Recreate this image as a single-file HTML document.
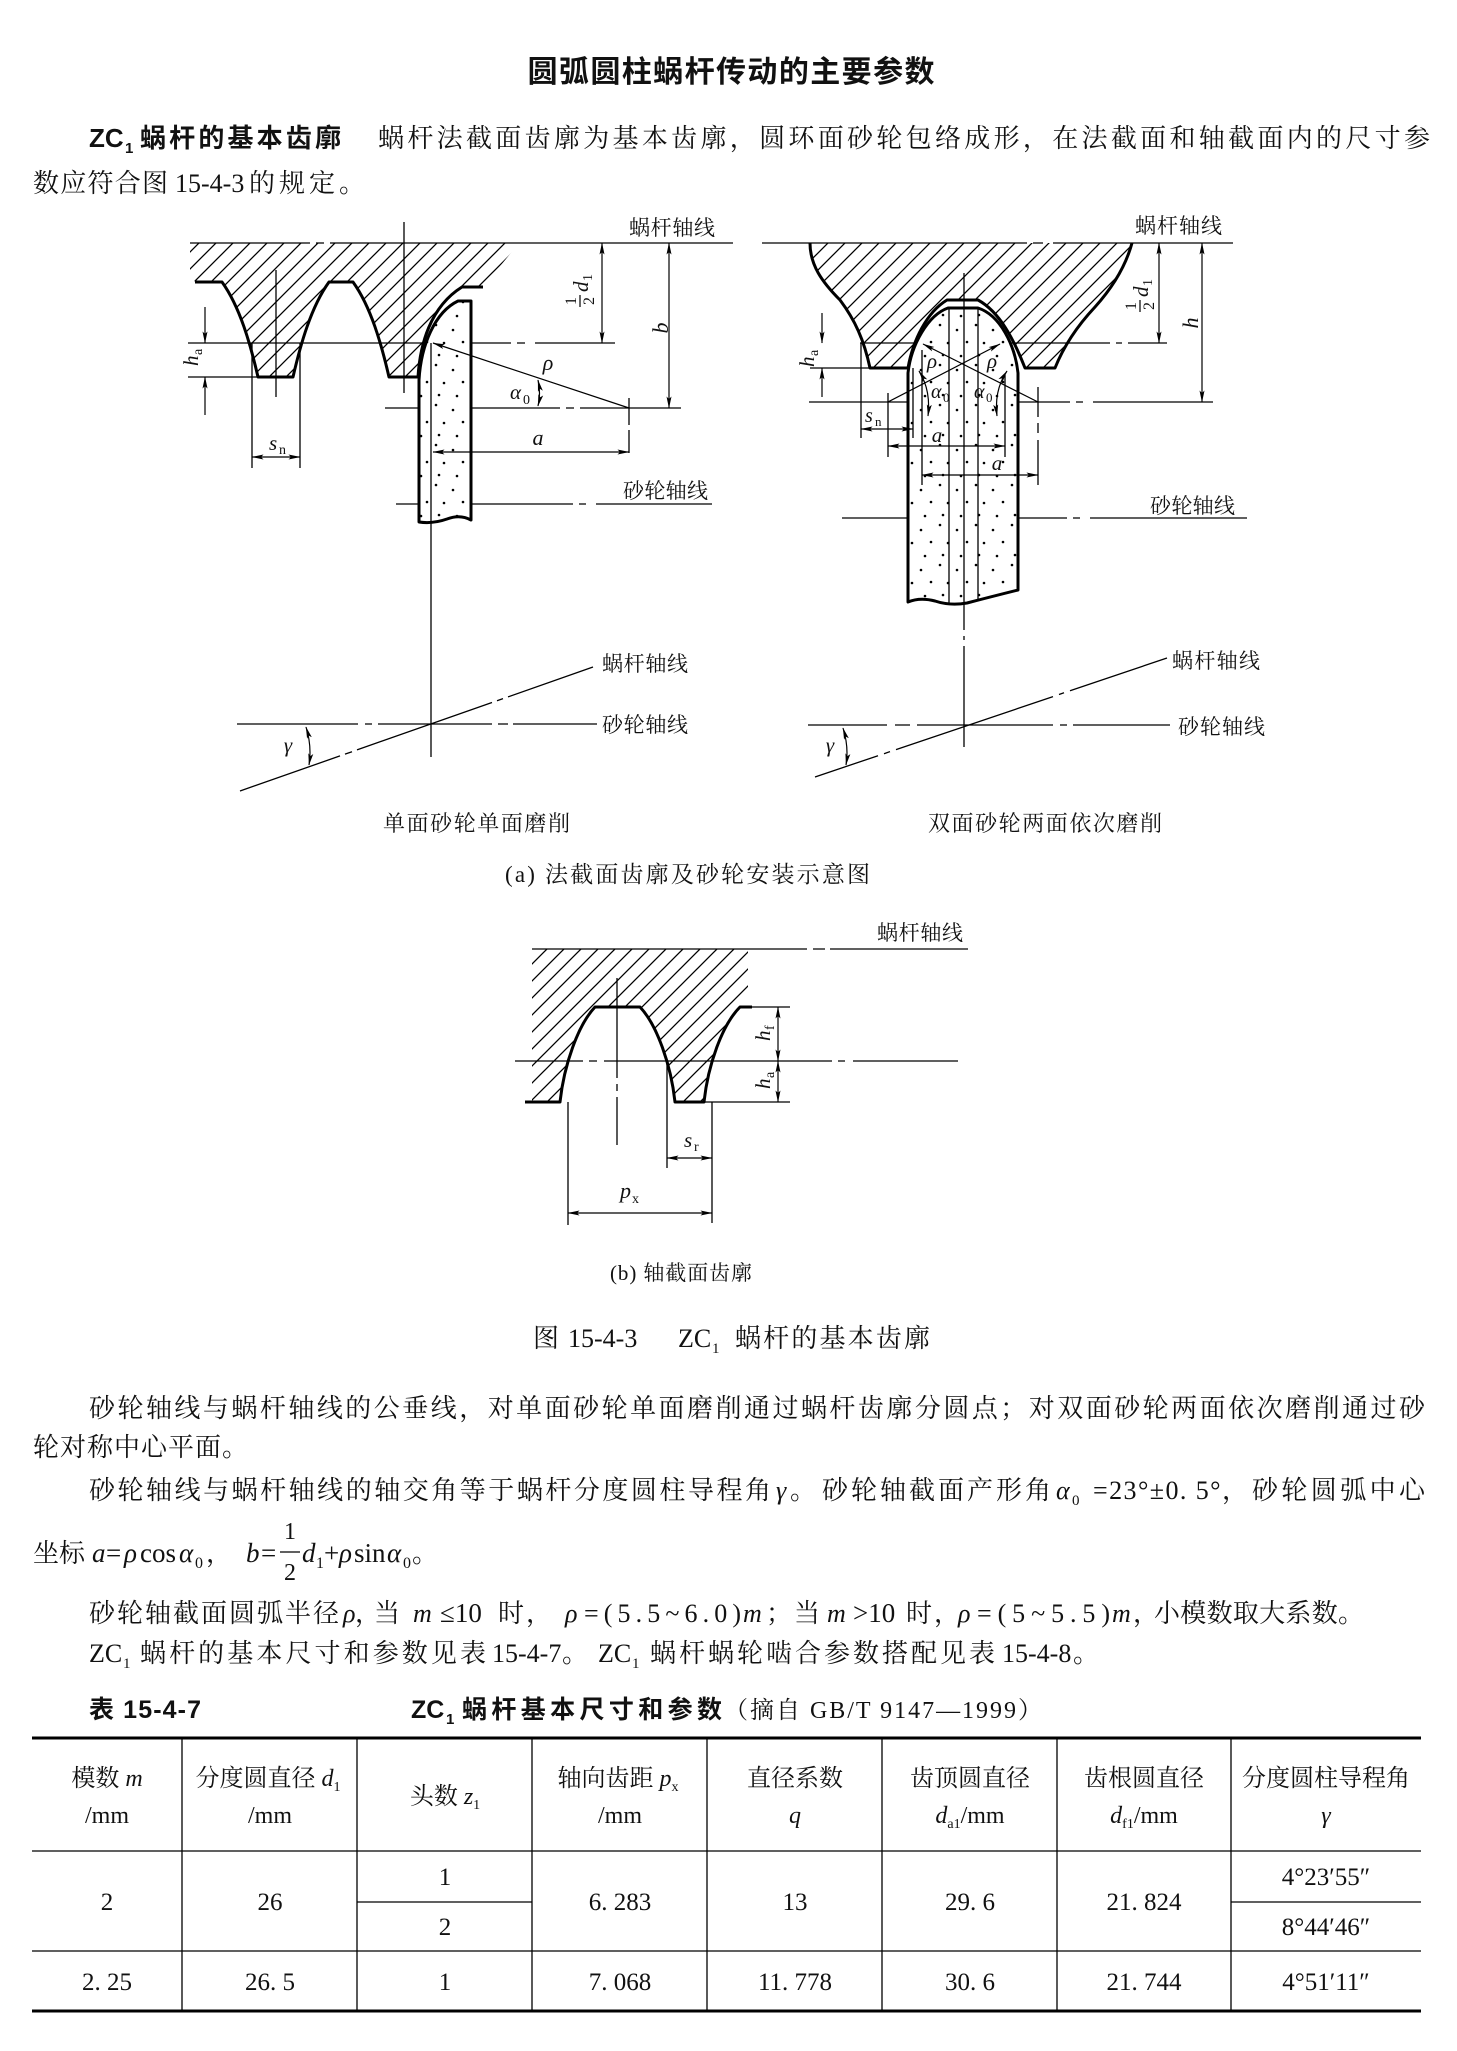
<!DOCTYPE html>
<html><head><meta charset="utf-8">
<style>
html,body{margin:0;padding:0;background:#fff;}
svg{display:block;}
.cj{font-family:"Liberation Serif","Noto Serif CJK SC",serif;}
.hei{font-family:"Liberation Sans","Noto Sans CJK SC",sans-serif;font-weight:bold;}
.it{font-family:"Liberation Serif",serif;font-style:italic;}
.ln{stroke:#000;stroke-width:1.3;fill:none;}
.tk{stroke:#000;stroke-width:3;fill:none;stroke-linejoin:round;}
.d2{stroke:#000;stroke-width:1.2;fill:none;marker-start:url(#a);marker-end:url(#a);}
.d1{stroke:#000;stroke-width:1.2;fill:none;marker-end:url(#a);}
text{fill:#111;}
</style></head><body>
<svg width="1457" height="2051" viewBox="0 0 1457 2051" xmlns="http://www.w3.org/2000/svg">
<defs>
<pattern id="h" width="17" height="17" patternUnits="userSpaceOnUse">
<path d="M-1,18 L18,-1 M-9,9 L9,-9 M8,26 L26,8" stroke="#000" stroke-width="1.3"/>
</pattern>
<pattern id="dt" width="36" height="40" patternUnits="userSpaceOnUse">
<circle cx="4" cy="5" r="1.3" fill="#000"/><circle cx="21" cy="10" r="1.3" fill="#000"/>
<circle cx="31" cy="22" r="1.3" fill="#000"/><circle cx="12" cy="23" r="1.3" fill="#000"/>
<circle cx="7" cy="35" r="1.3" fill="#000"/><circle cx="25" cy="36" r="1.3" fill="#000"/>
</pattern>
<marker id="a" viewBox="0 0 12 6" refX="11.5" refY="3" markerWidth="12" markerHeight="6" markerUnits="userSpaceOnUse" orient="auto-start-reverse">
<path d="M0,0.5 L12,3 L0,5.5 L2.5,3Z" fill="#000"/>
</marker>
</defs>

<!-- Title -->
<text x="731" y="82" text-anchor="middle" class="hei" font-size="30" textLength="407">圆弧圆柱蜗杆传动的主要参数</text>

<!-- Paragraph 1 -->
<text x="89" y="147" class="hei" font-size="26">ZC</text>
<text x="125" y="153" class="hei" font-size="15">1</text>
<text x="140" y="147" class="hei" font-size="26" textLength="201">蜗杆的基本齿廓</text>
<text x="378" y="147" class="cj" font-size="26" textLength="1052">蜗杆法截面齿廓为基本齿廓，圆环面砂轮包络成形，在法截面和轴截面内的尺寸参</text>
<text x="33" y="192" class="cj" font-size="26" textLength="135">数应符合图</text>
<text x="175" y="192" class="cj" font-size="26">15-4-3</text>
<text x="249" y="192" class="cj" font-size="26" textLength="116">的规定。</text>

<!-- ===== Diagram (a) left ===== -->
<path d="M190,243 L519,243 L483,287 L462,287 C430,307 420,345 418,377 L389,377 C381.5,344.5 371,307 353,282 L329,282 C311,307 300.5,344.5 293,377 L258,377 C250.5,344.5 240,307 222,282 L195,282 L190,270Z" fill="url(#h)"/>
<path class="ln" d="M190,243H310M316,243H324M330,243H733"/>
<path class="ln" d="M404,222V393"/>
<path class="ln" d="M276,270V397"/>
<path class="ln" d="M188,343H511M517,343H525M535,343H615"/>
<path class="ln" d="M188,377H258"/>
<path class="ln" d="M252,343V468M300,343V468"/>
<path class="ln" d="M385,408H560M566,408H574M580,408H681"/>
<path class="ln" d="M629,398V425M629,430V453"/>
<path class="ln" d="M396,504H573M579,504H586M596,504H712"/>
<path class="tk" d="M195,282 L222,282 C240,307 250.5,344.5 258,377 L293,377 C300.5,344.5 311,307 329,282 L353,282 C371,307 381.5,344.5 389,377 L418,377 M418,377 C420,345 430,307 462,287 L483,287"/>
<!-- wheel -->
<path d="M419,522 L419,380 C421,345 435,312 458,301 L471,301 L471,520 Q460,514 447,519 Q433,524 419,522Z" fill="#fff"/>
<path d="M419,522 L419,380 C421,345 435,312 458,301 L471,301 L471,520 Q460,514 447,519 Q433,524 419,522Z" fill="url(#dt)" stroke="#000" stroke-width="3" stroke-linejoin="round"/>
<path class="ln" d="M431,343V757"/>
<path class="d1" d="M629,408 L433,343"/>
<path class="d2" d="M538,380 Q541,394 538,406"/>
<path class="d2" d="M433,452H629"/>
<path class="d2" d="M669,243V408"/>
<path class="d2" d="M602,243V343"/>
<path class="d1" d="M205,307V343"/>
<path class="d1" d="M205,415V377"/>
<path class="d2" d="M252,457H300"/>
<text x="629" y="235" class="cj" font-size="21" textLength="86">蜗杆轴线</text>
<text x="623" y="498" class="cj" font-size="21" textLength="85">砂轮轴线</text>
<text x="548" y="370" class="it" font-size="22" text-anchor="middle">ρ</text>
<text x="510" y="399" class="it" font-size="21">α</text><text x="523" y="404" class="cj" font-size="14">0</text>
<text x="538" y="445" class="it" font-size="22" text-anchor="middle">a</text>
<text x="269" y="450" class="it" font-size="21">s</text><text x="279" y="454" class="cj" font-size="14">n</text>
<g transform="translate(192,357) rotate(-90)"><text x="-9" y="6" class="it" font-size="21">h</text><text x="2" y="10" class="cj" font-size="14">a</text></g>
<g transform="translate(661,328) rotate(-90)"><text x="0" y="7" class="it" font-size="22" text-anchor="middle">b</text></g>
<g transform="translate(580,288) rotate(-90)">
<text x="-13" y="-4" class="cj" font-size="16" text-anchor="middle">1</text>
<path d="M-19,0H-7" stroke="#000" stroke-width="1.2"/>
<text x="-13" y="14" class="cj" font-size="16" text-anchor="middle">2</text>
<text x="-4" y="8" class="it" font-size="21">d</text><text x="7" y="12" class="cj" font-size="14">1</text>
</g>

<!-- lower axes left -->
<path class="ln" d="M237,724H358M365,724H372M378,724H492M498,724H508M513,724H597"/>
<path class="ln" d="M240,791L340,755.9M345,754.1L352,751.7M357,749.9L492,702.5M497,700.7L503,698.6M508,696.9L593,667"/>
<path class="d2" d="M306,727 Q312,746 309,765"/>
<text x="288" y="752" class="it" font-size="21" text-anchor="middle">γ</text>
<text x="602" y="671" class="cj" font-size="21" textLength="86">蜗杆轴线</text>
<text x="602" y="732" class="cj" font-size="21" textLength="86">砂轮轴线</text>
<text x="383" y="831" class="cj" font-size="22" textLength="187">单面砂轮单面磨削</text>

<!-- ===== Diagram (a) right ===== -->
<path d="M810,243 L1132,243 C1126,265 1113,287 1095,307 C1080,323 1065,343 1055,368 L1025,368 C1014,340 1000,312 978,300 L947,300 C927,312 913,340 908,368 L870,368 C864,340 855,320 840,300 C822,282 810,265 810,243Z" fill="url(#h)"/>
<path class="ln" d="M762,243H1027M1033,243H1043M1053,243H1233"/>
<path class="ln" d="M860,343H1110M1116,343H1122M1128,343H1167"/>
<path class="ln" d="M809,402H1070M1076,402H1083M1093,402H1213"/>
<path class="ln" d="M810,368H870"/>
<path class="ln" d="M842,518H1067M1073,518H1080M1090,518H1247"/>
<path class="tk" d="M810,243 C810,265 822,282 840,300 C855,320 864,340 870,368 L908,368 C913,340 927,312 947,300 L978,300 C1000,312 1014,340 1025,368 L1055,368 C1065,343 1080,323 1095,307 C1113,287 1126,265 1132,243"/>
<!-- wheel -->
<path d="M908,602 L908,373 C911,345 928,315 948,308 L978,308 C1000,315 1015,345 1018,373 L1018,590 Q990,597 967,603 Q950,606 935,601 Q920,597 908,602Z" fill="#fff"/>
<path d="M908,602 L908,373 C911,345 928,315 948,308 L978,308 C1000,315 1015,345 1018,373 L1018,590 Q990,597 967,603 Q950,606 935,601 Q920,597 908,602Z" fill="url(#dt)" stroke="#000" stroke-width="3" stroke-linejoin="round"/>
<path class="ln" d="M949,308V604M978,308V600"/>
<path class="ln" d="M964,273V630M964,636V640M964,646V747"/>
<path class="d1" d="M822,313V343"/>
<path class="d1" d="M822,397V368"/>
<path class="ln" d="M861,343V438M913,368V438"/>
<path class="d2" d="M861,429H913"/>
<path class="d1" d="M1038,402 L923,344"/>
<path class="d1" d="M888,402 L1000,344"/>
<path class="ln" d="M888,393V457M1005,375V457M922,350V485M1038,387V417M1038,423V433M1038,440V485"/>
<path class="d2" d="M888,446H1005"/>
<path class="d2" d="M922,475H1038"/>
<path class="d2" d="M928,416 Q931,390 919,371"/>
<path class="d2" d="M997,416 Q994,390 1007,371"/>
<path class="d2" d="M1159,243V343"/>
<path class="d2" d="M1202,243V402"/>
<text x="1135" y="233" class="cj" font-size="21" textLength="87">蜗杆轴线</text>
<text x="1150" y="513" class="cj" font-size="21" textLength="85">砂轮轴线</text>
<text x="932" y="368" class="it" font-size="21" text-anchor="middle">ρ</text>
<text x="992" y="368" class="it" font-size="21" text-anchor="middle">ρ</text>
<text x="931" y="398" class="it" font-size="20">α</text><text x="943" y="402" class="cj" font-size="13">0</text>
<text x="974" y="398" class="it" font-size="20">α</text><text x="986" y="402" class="cj" font-size="13">0</text>
<text x="937" y="442" class="it" font-size="21" text-anchor="middle">a</text>
<text x="997" y="470" class="it" font-size="21" text-anchor="middle">a</text>
<text x="865" y="422" class="it" font-size="20">s</text><text x="875" y="426" class="cj" font-size="13">n</text>
<g transform="translate(808,358) rotate(-90)"><text x="-9" y="6" class="it" font-size="21">h</text><text x="2" y="10" class="cj" font-size="14">a</text></g>
<g transform="translate(1191,323) rotate(-90)"><text x="0" y="7" class="it" font-size="22" text-anchor="middle">h</text></g>
<g transform="translate(1140,293) rotate(-90)">
<text x="-13" y="-4" class="cj" font-size="16" text-anchor="middle">1</text>
<path d="M-19,0H-7" stroke="#000" stroke-width="1.2"/>
<text x="-13" y="14" class="cj" font-size="16" text-anchor="middle">2</text>
<text x="-4" y="8" class="it" font-size="21">d</text><text x="7" y="12" class="cj" font-size="14">1</text>
</g>

<!-- lower axes right -->
<path class="ln" d="M808,725H887M895,725H910M917,725H1053M1060,725H1067M1073,725H1170"/>
<path class="ln" d="M815,777L878,755.7M884,753.7L890,751.6M896,749.6L1053,696.6M1059,694.5L1064,692.8M1070,690.8L1167,658"/>
<path class="d2" d="M843,728 Q849,747 846,765"/>
<text x="830" y="752" class="it" font-size="21" text-anchor="middle">γ</text>
<text x="1172" y="668" class="cj" font-size="21" textLength="88">蜗杆轴线</text>
<text x="1178" y="734" class="cj" font-size="21" textLength="87">砂轮轴线</text>
<text x="928" y="831" class="cj" font-size="22" textLength="234">双面砂轮两面依次磨削</text>

<text x="505" y="882" class="cj" font-size="23" textLength="365">(a) 法截面齿廓及砂轮安装示意图</text>

<!-- ===== Diagram (b) ===== -->
<path d="M532,949 L748,949 L748,995 L740,1007 C722,1025 708,1065 704,1102 L675,1102 C671,1065 657,1025 640,1007 L595,1007 C578,1025 564,1065 560,1102 L532,1102Z" fill="url(#h)"/>
<path class="ln" d="M532,949H807M813,949H825M830,949H968"/>
<path class="ln" d="M515,1061H583M589,1061H597M604,1061H832M838,1061H845M853,1061H958"/>
<path class="ln" d="M617,978V1078M617,1084V1091M617,1097V1145"/>
<path class="ln" d="M752,1007H790M704,1102H790"/>
<path class="tk" d="M525,1102 L560,1102 C564,1065 578,1025 595,1007 L640,1007 C657,1025 671,1065 675,1102 L704,1102 C708,1065 722,1025 740,1007 L752,1007"/>
<path class="d2" d="M778,1007V1061"/>
<path class="d2" d="M778,1061V1102"/>
<path class="ln" d="M667,1061V1168M712,1102V1223M568,1102V1225"/>
<path class="d2" d="M667,1158H712"/>
<path class="d2" d="M568,1213H712"/>
<text x="877" y="940" class="cj" font-size="21" textLength="86">蜗杆轴线</text>
<g transform="translate(764,1032) rotate(-90)"><text x="-9" y="6" class="it" font-size="21">h</text><text x="2" y="10" class="cj" font-size="14">f</text></g>
<g transform="translate(764,1080) rotate(-90)"><text x="-9" y="6" class="it" font-size="21">h</text><text x="2" y="10" class="cj" font-size="14">a</text></g>
<text x="684" y="1147" class="it" font-size="21">s</text><text x="694" y="1151" class="cj" font-size="14">r</text>
<text x="620" y="1198" class="it" font-size="22">p</text><text x="632" y="1203" class="cj" font-size="14">x</text>
<text x="610" y="1280" class="cj" font-size="21" textLength="142">(b) 轴截面齿廓</text>

<!-- Figure caption -->
<text x="533" y="1347" class="cj" font-size="26">图</text>
<text x="568" y="1347" class="cj" font-size="26">15-4-3</text>
<text x="678" y="1347" class="cj" font-size="26">ZC</text>
<text x="712" y="1353" class="cj" font-size="15">1</text>
<text x="735" y="1347" class="cj" font-size="26" textLength="195">蜗杆的基本齿廓</text>

<!-- Paragraphs -->
<text x="89" y="1417" class="cj" font-size="26" textLength="1336">砂轮轴线与蜗杆轴线的公垂线，对单面砂轮单面磨削通过蜗杆齿廓分圆点；对双面砂轮两面依次磨削通过砂</text>
<text x="33" y="1456" class="cj" font-size="26" textLength="215">轮对称中心平面。</text>

<text x="89" y="1499" class="cj" font-size="26" textLength="682">砂轮轴线与蜗杆轴线的轴交角等于蜗杆分度圆柱导程角</text>
<text x="776" y="1499" class="it" font-size="26">γ</text>
<text x="790" y="1499" class="cj" font-size="26">。</text>
<text x="822" y="1499" class="cj" font-size="26" textLength="229">砂轮轴截面产形角</text>
<text x="1056" y="1499" class="it" font-size="26">α</text>
<text x="1072" y="1505" class="cj" font-size="15">0</text>
<text x="1093" y="1499" class="cj" font-size="26" textLength="155">=23°±0. 5°，</text>
<text x="1252" y="1499" class="cj" font-size="26" textLength="173">砂轮圆弧中心</text>

<text x="33" y="1562" class="cj" font-size="26">坐标</text>
<text x="92" y="1562" class="it" font-size="27">a</text>
<text x="106" y="1562" class="cj" font-size="27">=</text>
<text x="124" y="1562" class="it" font-size="27">ρ</text>
<text x="140" y="1562" class="cj" font-size="27">cos</text>
<text x="179" y="1562" class="it" font-size="27">α</text>
<text x="195" y="1568" class="cj" font-size="16">0</text>
<text x="206" y="1562" class="cj" font-size="26">，</text>
<text x="246" y="1562" class="it" font-size="27">b</text>
<text x="261" y="1562" class="cj" font-size="27">=</text>
<text x="290" y="1539" class="cj" font-size="24" text-anchor="middle">1</text>
<path d="M280,1552H300" stroke="#000" stroke-width="1.3"/>
<text x="290" y="1580" class="cj" font-size="24" text-anchor="middle">2</text>
<text x="302" y="1562" class="it" font-size="27">d</text>
<text x="316" y="1568" class="cj" font-size="16">1</text>
<text x="324" y="1562" class="cj" font-size="27">+</text>
<text x="339" y="1562" class="it" font-size="27">ρ</text>
<text x="354" y="1562" class="cj" font-size="27">sin</text>
<text x="387" y="1562" class="it" font-size="27">α</text>
<text x="403" y="1568" class="cj" font-size="16">0</text>
<text x="412" y="1562" class="cj" font-size="26">。</text>

<text x="89" y="1622" class="cj" font-size="26" textLength="250">砂轮轴截面圆弧半径</text>
<text x="343" y="1622" class="it" font-size="26">ρ</text>
<text x="355" y="1622" class="cj" font-size="26">，</text>
<text x="374" y="1622" class="cj" font-size="26">当</text>
<text x="413" y="1622" class="it" font-size="26">m</text>
<text x="440" y="1622" class="cj" font-size="27">≤10</text>
<text x="498" y="1622" class="cj" font-size="26">时</text>
<text x="526" y="1622" class="cj" font-size="26">，</text>
<text x="565" y="1622" class="it" font-size="26">ρ</text>
<text x="584" y="1622" class="cj" font-size="26" textLength="157">=(5.5~6.0)</text>
<text x="743" y="1622" class="it" font-size="26">m</text>
<text x="766" y="1622" class="cj" font-size="26">；</text>
<text x="794" y="1622" class="cj" font-size="26">当</text>
<text x="827" y="1622" class="it" font-size="26">m</text>
<text x="853" y="1622" class="cj" font-size="27">&gt;10</text>
<text x="906" y="1622" class="cj" font-size="26">时</text>
<text x="934" y="1622" class="cj" font-size="26">，</text>
<text x="958" y="1622" class="it" font-size="26">ρ</text>
<text x="977" y="1622" class="cj" font-size="26" textLength="133">=(5~5.5)</text>
<text x="1112" y="1622" class="it" font-size="26">m</text>
<text x="1133" y="1622" class="cj" font-size="26">，</text>
<text x="1154" y="1622" class="cj" font-size="26" textLength="210">小模数取大系数。</text>

<text x="89" y="1662" class="cj" font-size="26">ZC</text>
<text x="123" y="1668" class="cj" font-size="15">1</text>
<text x="140" y="1662" class="cj" font-size="26" textLength="346">蜗杆的基本尺寸和参数见表</text>
<text x="492" y="1662" class="cj" font-size="26">15-4-7</text>
<text x="562" y="1662" class="cj" font-size="26">。</text>
<text x="598" y="1662" class="cj" font-size="26">ZC</text>
<text x="632" y="1668" class="cj" font-size="15">1</text>
<text x="650" y="1662" class="cj" font-size="26" textLength="345">蜗杆蜗轮啮合参数搭配见表</text>
<text x="1002" y="1662" class="cj" font-size="26">15-4-8</text>
<text x="1073" y="1662" class="cj" font-size="26">。</text>

<!-- Table title -->
<text x="89" y="1718" class="hei" font-size="25" textLength="112">表 15-4-7</text>
<text x="411" y="1718" class="hei" font-size="25">ZC</text>
<text x="446" y="1724" class="hei" font-size="15">1</text>
<text x="462" y="1718" class="hei" font-size="25" textLength="260">蜗杆基本尺寸和参数</text>
<text x="724" y="1718" class="cj" font-size="24" textLength="318">（摘自 GB/T 9147—1999）</text>

<!-- Table -->
<path d="M32,1738H1421M32,2011H1421" stroke="#000" stroke-width="3"/>
<path class="ln" d="M32,1851H1421M32,1951H1421M357,1902H532M1231,1902H1421"/>
<path class="ln" d="M182,1738V2011M357,1738V2011M532,1738V2011M707,1738V2011M882,1738V2011M1057,1738V2011M1231,1738V2011"/>

<g class="cj" font-size="24" text-anchor="middle">
<text x="107" y="1786">模数 <tspan class="it">m</tspan></text>
<text x="107" y="1823">/mm</text>
<text x="268" y="1786">分度圆直径 <tspan class="it">d</tspan><tspan font-size="14" dy="5">1</tspan></text>
<text x="270" y="1823">/mm</text>
<text x="445" y="1804">头数 <tspan class="it">z</tspan><tspan font-size="14" dy="5">1</tspan></text>
<text x="618" y="1786">轴向齿距 <tspan class="it">p</tspan><tspan font-size="14" dy="5">x</tspan></text>
<text x="620" y="1823">/mm</text>
<text x="795" y="1786">直径系数</text>
<text x="795" y="1823" class="it">q</text>
<text x="970" y="1786">齿顶圆直径</text>
<text x="970" y="1823"><tspan class="it">d</tspan><tspan font-size="14" dy="5">a1</tspan><tspan dy="-5">/mm</tspan></text>
<text x="1144" y="1786">齿根圆直径</text>
<text x="1144" y="1823"><tspan class="it">d</tspan><tspan font-size="14" dy="5">f1</tspan><tspan dy="-5">/mm</tspan></text>
<text x="1326" y="1786">分度圆柱导程角</text>
<text x="1326" y="1823" class="it">γ</text>
</g>
<g class="cj" font-size="25" text-anchor="middle">
<text x="107" y="1910">2</text>
<text x="270" y="1910">26</text>
<text x="445" y="1885">1</text>
<text x="445" y="1935">2</text>
<text x="620" y="1910">6. 283</text>
<text x="795" y="1910">13</text>
<text x="970" y="1910">29. 6</text>
<text x="1144" y="1910">21. 824</text>
<text x="1326" y="1885">4°23′55″</text>
<text x="1326" y="1935">8°44′46″</text>
<text x="107" y="1990">2. 25</text>
<text x="270" y="1990">26. 5</text>
<text x="445" y="1990">1</text>
<text x="620" y="1990">7. 068</text>
<text x="795" y="1990">11. 778</text>
<text x="970" y="1990">30. 6</text>
<text x="1144" y="1990">21. 744</text>
<text x="1326" y="1990">4°51′11″</text>
</g>
</svg>
</body></html>
